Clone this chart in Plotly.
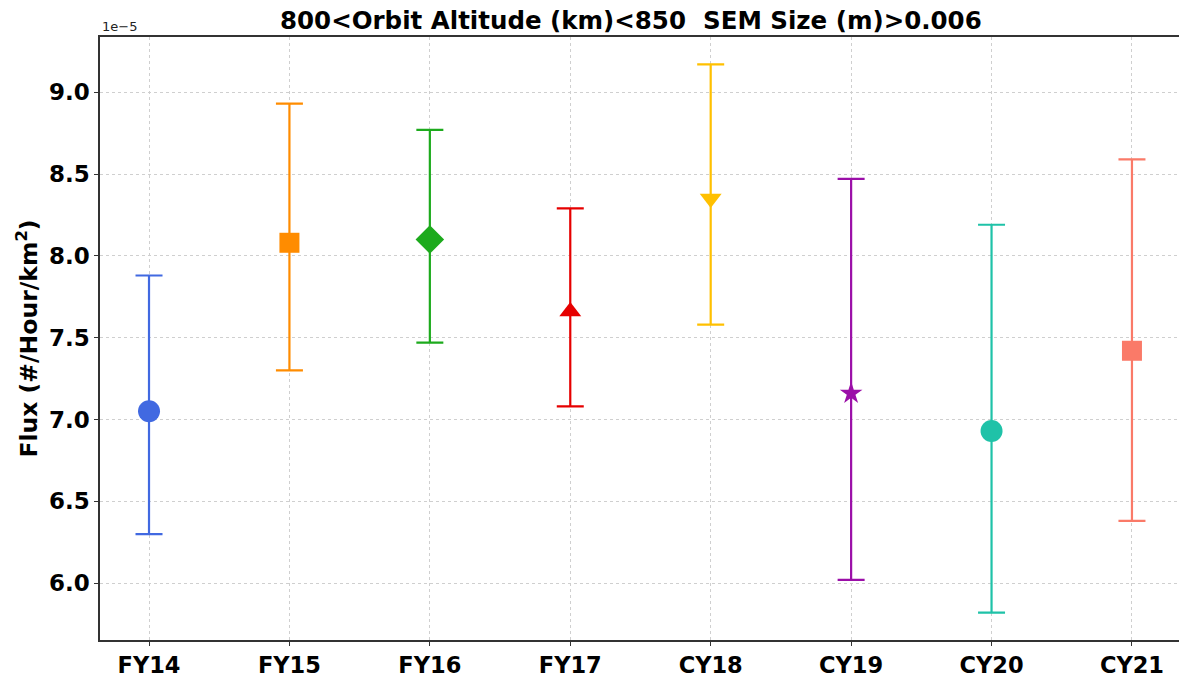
import plotly.graph_objects as go

# ---- data (flux in units of 1e-5 #/Hour/km^2) ----
categories = ["FY14", "FY15", "FY16", "FY17", "CY18", "CY19", "CY20", "CY21"]
flux_mean = [7.05, 8.08, 8.10, 7.66, 8.35, 7.16, 6.93, 7.42]
flux_upper = [7.88, 8.93, 8.77, 8.29, 9.17, 8.47, 8.19, 8.59]
flux_lower = [6.30, 7.30, 7.47, 7.08, 7.58, 6.02, 5.82, 6.38]
y_ticks = [6.0, 6.5, 7.0, 7.5, 8.0, 8.5, 9.0]
scale_label = "1e\u22125"
title_text = "800<Orbit Altitude (km)<850\u00a0\u00a0SEM Size (m)>0.006"

colors = ["#4169E1", "#FF8C00", "#1DAA1D", "#E60000", "#FFC000", "#9B0FA8", "#1FC2A8", "#FA7A68"]
symbols = ["circle", "square", "diamond", "triangle-up", "triangle-down", "star", "circle", "square"]
sizes = [22, 20, 22, 19, 19, 17, 22, 20]

fig = go.Figure()
for i, cat in enumerate(categories):
    fig.add_trace(go.Scatter(
        x=[i], y=[flux_mean[i]],
        mode="markers",
        marker=dict(color=colors[i], symbol=symbols[i], size=sizes[i], line=dict(width=0)),
        error_y=dict(type="data", symmetric=False,
                     array=[flux_upper[i] - flux_mean[i]],
                     arrayminus=[flux_mean[i] - flux_lower[i]],
                     color=colors[i], thickness=2.2, width=13.5),
        showlegend=False,
        name=cat,
    ))

n = len(categories)
all_vals = flux_upper + flux_lower
ymin, ymax = min(all_vals), max(all_vals)
pad = 0.05 * (ymax - ymin)

font_family = "DejaVu Sans"
fig.update_layout(
    width=1179, height=677,
    margin=dict(l=100, r=0, t=37, b=37),
    paper_bgcolor="white", plot_bgcolor="white",
    font=dict(family=font_family, color="black"),
    title=dict(text="<b>" + title_text + "</b>", x=0.492, xref="paper", xanchor="center",
               y=1, yref="paper", yanchor="bottom", pad=dict(b=8),
               font=dict(size=24.5, family=font_family, color="black")),
)
fig.update_xaxes(
    range=[-0.349, (n - 1) + 0.335],
    automargin=False,
    tickmode="array", tickvals=list(range(n)),
    ticktext=["<b>" + c + "</b>" for c in categories],
    tickfont=dict(size=22.5, family=font_family, color="black"),
    ticks="outside", ticklen=4, tickwidth=1.2, tickcolor="#333",
    showline=True, linecolor="#333", linewidth=1.5, mirror=True,
    showgrid=True, gridcolor="#cfcfcf", griddash="dot", gridwidth=1,
    zeroline=False,
)
fig.update_yaxes(
    range=[ymin - pad, ymax + pad],
    automargin=False,
    tickmode="array", tickvals=y_ticks,
    ticktext=["<b>%.1f</b>" % v for v in y_ticks],
    tickfont=dict(size=23, family=font_family, color="black"),
    ticks="outside", ticklen=4, tickwidth=1.2, tickcolor="#333",
    showline=True, linecolor="#333", linewidth=1.5, mirror=False,
    showgrid=True, gridcolor="#cfcfcf", griddash="dot", gridwidth=1,
    zeroline=False,
    title=dict(text="<b>Flux (#/Hour/km<sup>2</sup>)</b>", standoff=5,
               font=dict(size=23.5, family=font_family, color="black")),
)
fig.add_annotation(text=scale_label, xref="paper", yref="paper", x=0, y=1,
                   xanchor="left", yanchor="bottom", showarrow=False, yshift=1,
                   font=dict(size=13, family=font_family, color="#222"))

fig.write_html("out.html")
